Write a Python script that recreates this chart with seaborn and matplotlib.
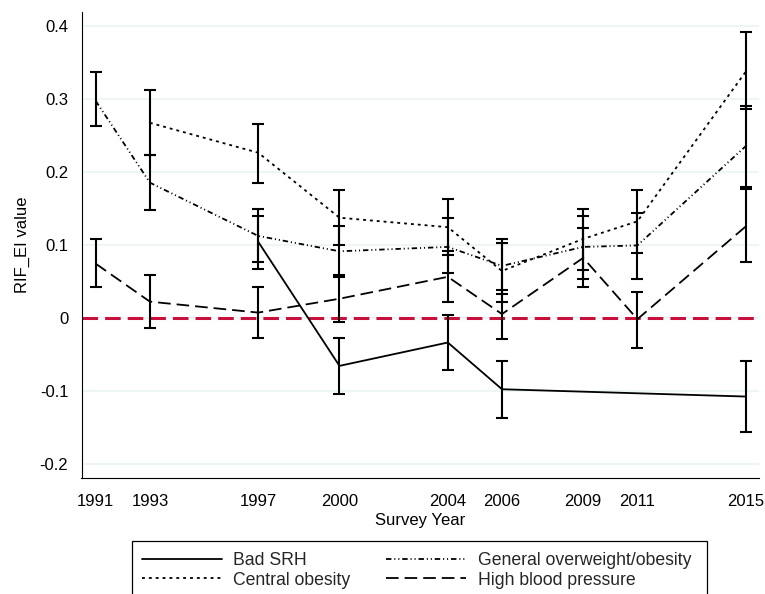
import matplotlib
matplotlib.use("Agg")
import matplotlib.pyplot as plt
from matplotlib.patches import Rectangle
import seaborn as sns
import pandas as pd

# survey waves
years = [1991, 1993, 1997, 2000, 2004, 2006, 2009, 2011, 2015]

# Bad SRH only from 1997 on, no 2009/2011 estimates
srh_years = [1997, 2000, 2004, 2006, 2015]
srh_est = [0.104, -0.066, -0.034, -0.098, -0.108]
srh_lo = [0.067, -0.105, -0.072, -0.137, -0.157]
srh_hi = [0.140, -0.028, 0.004, -0.059, -0.059]

# Central obesity starts 1993
co_years = [1993, 1997, 2000, 2004, 2006, 2009, 2011, 2015]
co_est = [0.267, 0.226, 0.137, 0.124, 0.064, 0.108, 0.132, 0.337]
co_lo = [0.223, 0.185, 0.099, 0.086, 0.021, 0.065, 0.089, 0.286]
co_hi = [0.312, 0.265, 0.175, 0.162, 0.103, 0.149, 0.175, 0.392]

# General overweight/obesity
go_est = [0.297, 0.185, 0.112, 0.091, 0.097, 0.071, 0.097, 0.099, 0.235]
go_lo = [0.262, 0.147, 0.076, 0.056, 0.061, 0.033, 0.053, 0.053, 0.179]
go_hi = [0.336, 0.223, 0.149, 0.125, 0.136, 0.108, 0.139, 0.143, 0.290]

# High blood pressure
hbp_est = [0.074, 0.022, 0.007, 0.026, 0.056, 0.005, 0.082, -0.002, 0.125]
hbp_lo = [0.042, -0.014, -0.028, -0.006, 0.022, -0.029, 0.042, -0.042, 0.076]
hbp_hi = [0.108, 0.058, 0.042, 0.058, 0.091, 0.038, 0.123, 0.035, 0.176]

ytick_vals = [-0.2, -0.1, 0, 0.1, 0.2, 0.3, 0.4]
ytick_labels = ["-0.2", "-0.1", "0", "0.1", "0.2", "0.3", "0.4"]

series = [
    ("Bad SRH", srh_years, srh_est, srh_lo, srh_hi, "-"),
    ("Central obesity", co_years, co_est, co_lo, co_hi, (0, (1.6, 2.2))),
    ("General overweight/obesity", years, go_est, go_lo, go_hi, (0, (3.0, 1.6, 0.6, 1.6, 0.6, 1.6))),
    ("High blood pressure", years, hbp_est, hbp_lo, hbp_hi, (0, (7, 3.3))),
]

frames = []
for name, yrs, est, lo, hi, _ in series:
    frames.append(pd.DataFrame({"year": yrs, "est": est, "lo": lo, "hi": hi, "outcome": name}))
df = pd.concat(frames, ignore_index=True)

FS = 12
LEG_FS = 12.7

sns.set_theme(style="white")
plt.rcParams.update({
    "font.family": ["Liberation Sans", "DejaVu Sans"],
    "font.size": FS,
})

fig = plt.figure(figsize=(7.65, 5.94), dpi=100)
ax = fig.add_axes([81.5 / 765, 1 - 478 / 594, (759 - 81.5) / 765, (478 - 12) / 594])

# light horizontal grid
for v in ytick_vals:
    ax.axhline(v, color="#eaf2f3", lw=1.1, zorder=0)

ax.axhline(0, color="#c8103c", lw=2.2, linestyle=(0, (5.1, 2.3)), zorder=1)

for name, yrs, est, lo, hi, ls in series:
    sub = df[df["outcome"] == name]
    sns.lineplot(data=sub, x="year", y="est", ax=ax, color="black", lw=1.3,
                 linestyle=ls, label=name, errorbar=None, zorder=3)
    ax.errorbar(sub["year"], sub["est"],
                yerr=[sub["est"] - sub["lo"], sub["hi"] - sub["est"]],
                fmt="none", ecolor="black", elinewidth=1.5, capsize=4.2,
                capthick=1.5, zorder=2)

ax.set_xlim(1990.475, 2015.49)
ax.set_ylim(-0.2196, 0.4188)
ax.set_xticks(years, labels=[str(y) for y in years])
ax.set_yticks(ytick_vals, labels=ytick_labels)
ax.tick_params(direction="out", length=5.5, width=0.8, color="black", pad=4,
               labelsize=FS, labelcolor="black")
ax.tick_params(axis="x", pad=6)

for side in ["top", "right"]:
    ax.spines[side].set_visible(False)
for side in ["left", "bottom"]:
    ax.spines[side].set_color("black")
    ax.spines[side].set_linewidth(0.8)

ax.set_xlabel("Survey Year", fontsize=FS, color="black", labelpad=3)
ax.set_ylabel("RIF_EI value", fontsize=FS, color="black", labelpad=7)

handles, labels = ax.get_legend_handles_labels()
ax.get_legend().remove()
fig.legend(handles, labels, ncol=2, loc="upper left",
           bbox_to_anchor=(141.7 / 765, 1 - 552 / 594),
           frameon=False, borderpad=0, borderaxespad=0,
           handlelength=4.54, handletextpad=0.66, columnspacing=2.0,
           labelspacing=0.15, fontsize=LEG_FS)
fig.add_artist(Rectangle((132 / 765, 1 - 610 / 594), (707 - 132) / 765, (610 - 541) / 594,
                         transform=fig.transFigure, fill=False,
                         edgecolor="black", lw=0.9))

fig.savefig("out.png", dpi=100)
